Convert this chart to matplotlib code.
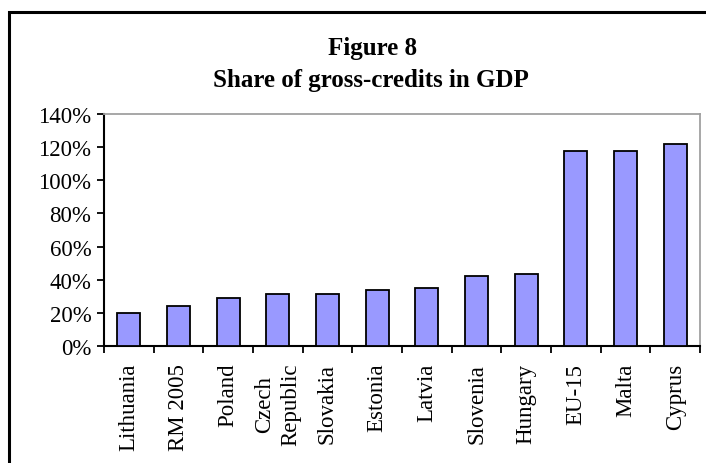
import matplotlib.pyplot as plt
import matplotlib.patches as patches
import numpy as np

plt.rcParams['font.family'] = ['Liberation Serif', 'DejaVu Serif']

countries = ['Lithuania', 'RM 2005', 'Poland', 'Czech\nRepublic', 'Slovakia', 'Estonia',
             'Latvia', 'Slovenia', 'Hungary', 'EU-15', 'Malta', 'Cyprus']
share = [20, 24, 29, 31.4, 31.4, 33.8, 35, 42, 43.5, 117.4, 117.4, 122]  # % of GDP
yticks = [0, 20, 40, 60, 80, 100, 120, 140]

fig = plt.figure(figsize=(7.06, 4.64), dpi=100)
ax = fig.add_axes([104/706, 1-347/464, 596/706, 232/464])

x = np.arange(len(countries))
ax.bar(x, share, width=0.46, color='#9999ff', edgecolor='black', linewidth=1.3, zorder=3)

ax.set_xlim(-0.5, len(countries) - 0.5)
ax.set_ylim(0, 140)
ax.set_yticks(yticks)
ax.set_yticklabels([f'{v}%' for v in yticks], fontsize=16.5)
ax.set_xticks(x)
ax.set_xticklabels(countries, rotation=90, fontsize=16.5, multialignment='center',
                   linespacing=1.35)
ax.set_xticks(np.arange(-0.5, len(countries), 1), minor=True)
ax.tick_params(axis='x', which='major', length=0, pad=12)
ax.tick_params(axis='x', which='minor', length=5, width=1.3, direction='out')
ax.tick_params(axis='y', length=5, width=1.3, direction='out', pad=4)

for s in ['left', 'bottom']:
    ax.spines[s].set_linewidth(1.5)
    ax.spines[s].set_color('black')
for s in ['top', 'right']:
    ax.spines[s].set_linewidth(1.3)
    ax.spines[s].set_color('#a0a0a0')

fig.text(373/706, 1-49/464, 'Figure 8', ha='center', va='center',
         fontsize=18, fontweight='bold')
fig.text(371/706, 1-80/464, 'Share of gross-credits in GDP', ha='center', va='center',
         fontsize=18, fontweight='bold')

# outer frame of the chart, cut off at right and bottom
frame = patches.Rectangle((9/706, -0.1), 1.2, 1.1 - 13/464, transform=fig.transFigure,
                          fill=False, edgecolor='black', linewidth=2.2, clip_on=False)
fig.patches.append(frame)

fig.savefig('out.png', dpi=100)
